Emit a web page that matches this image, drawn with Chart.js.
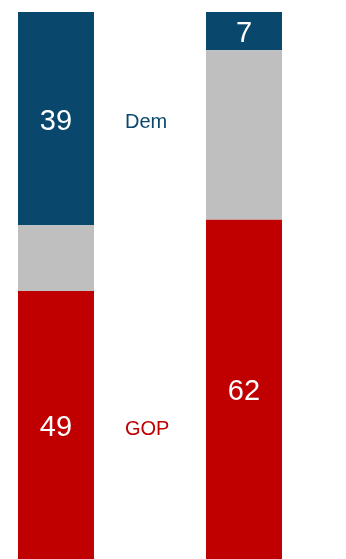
<!DOCTYPE html>
<html>
<head>
<meta charset="utf-8">
<script src="https://cdn.jsdelivr.net/npm/chart.js@4/dist/chart.umd.min.js"></script>
<style>
html,body{margin:0;padding:0;background:#fff;}
#wrap{width:346px;height:559px;position:relative;}
</style>
</head>
<body>
<div id="wrap"><canvas id="c" width="346" height="559"></canvas></div>
<script>
const categories = ['Group A', '', 'Group B'];
const demValues = [39, null, 7];
const otherValues = [12, null, 31];
const gopValues = [49, null, 62];
const seriesNames = ['GOP', 'Other', 'Dem'];

const BLUE = '#0A476C';
const GRAY = '#BFBFBF';
const RED = '#C00000';

const labelPlugin = {
  id: 'labels',
  afterDatasetsDraw(chart) {
    const ctx = chart.ctx;
    ctx.save();
    ctx.textAlign = 'center';
    ctx.textBaseline = 'middle';
    ctx.fillStyle = '#ffffff';
    ctx.font = '29px "Liberation Sans", Arial, sans-serif';
    [0, 2].forEach(di => {
      const meta = chart.getDatasetMeta(di);
      meta.data.forEach((bar, i) => {
        const v = chart.data.datasets[di].data[i];
        if (v == null) return;
        const yMid = (bar.y + bar.base) / 2;
        ctx.fillText(String(v), bar.x, yMid + 3);
      });
    });
    // Series name labels beside the first bar
    ctx.textAlign = 'left';
    ctx.font = '20px "Liberation Sans", Arial, sans-serif';
    const firstBar = chart.getDatasetMeta(0).data[0];
    const labelX = firstBar.x + firstBar.width / 2 + 31;
    [[2, BLUE], [0, RED]].forEach(([di, col]) => {
      const bar = chart.getDatasetMeta(di).data[0];
      ctx.fillStyle = col;
      ctx.fillText(seriesNames[di], labelX, (bar.y + bar.base) / 2 + 4);
    });
    ctx.restore();
  }
};

new Chart(document.getElementById('c'), {
  type: 'bar',
  data: {
    labels: categories,
    datasets: [
      { label: seriesNames[0], data: gopValues, backgroundColor: RED },
      { label: seriesNames[1], data: otherValues, backgroundColor: GRAY },
      { label: seriesNames[2], data: demValues, backgroundColor: BLUE }
    ]
  },
  options: {
    responsive: false,
    animation: false,
    layout: { padding: { left: 9, right: 55, top: 12, bottom: 0 } },
    datasets: { bar: { categoryPercentage: 1, barPercentage: 0.8085, borderWidth: 0 } },
    scales: {
      x: { stacked: true, display: false },
      y: { stacked: true, display: false, min: 0, max: 100 }
    },
    plugins: { legend: { display: false }, tooltip: { enabled: false } }
  },
  plugins: [labelPlugin]
});
</script>
</body>
</html>
